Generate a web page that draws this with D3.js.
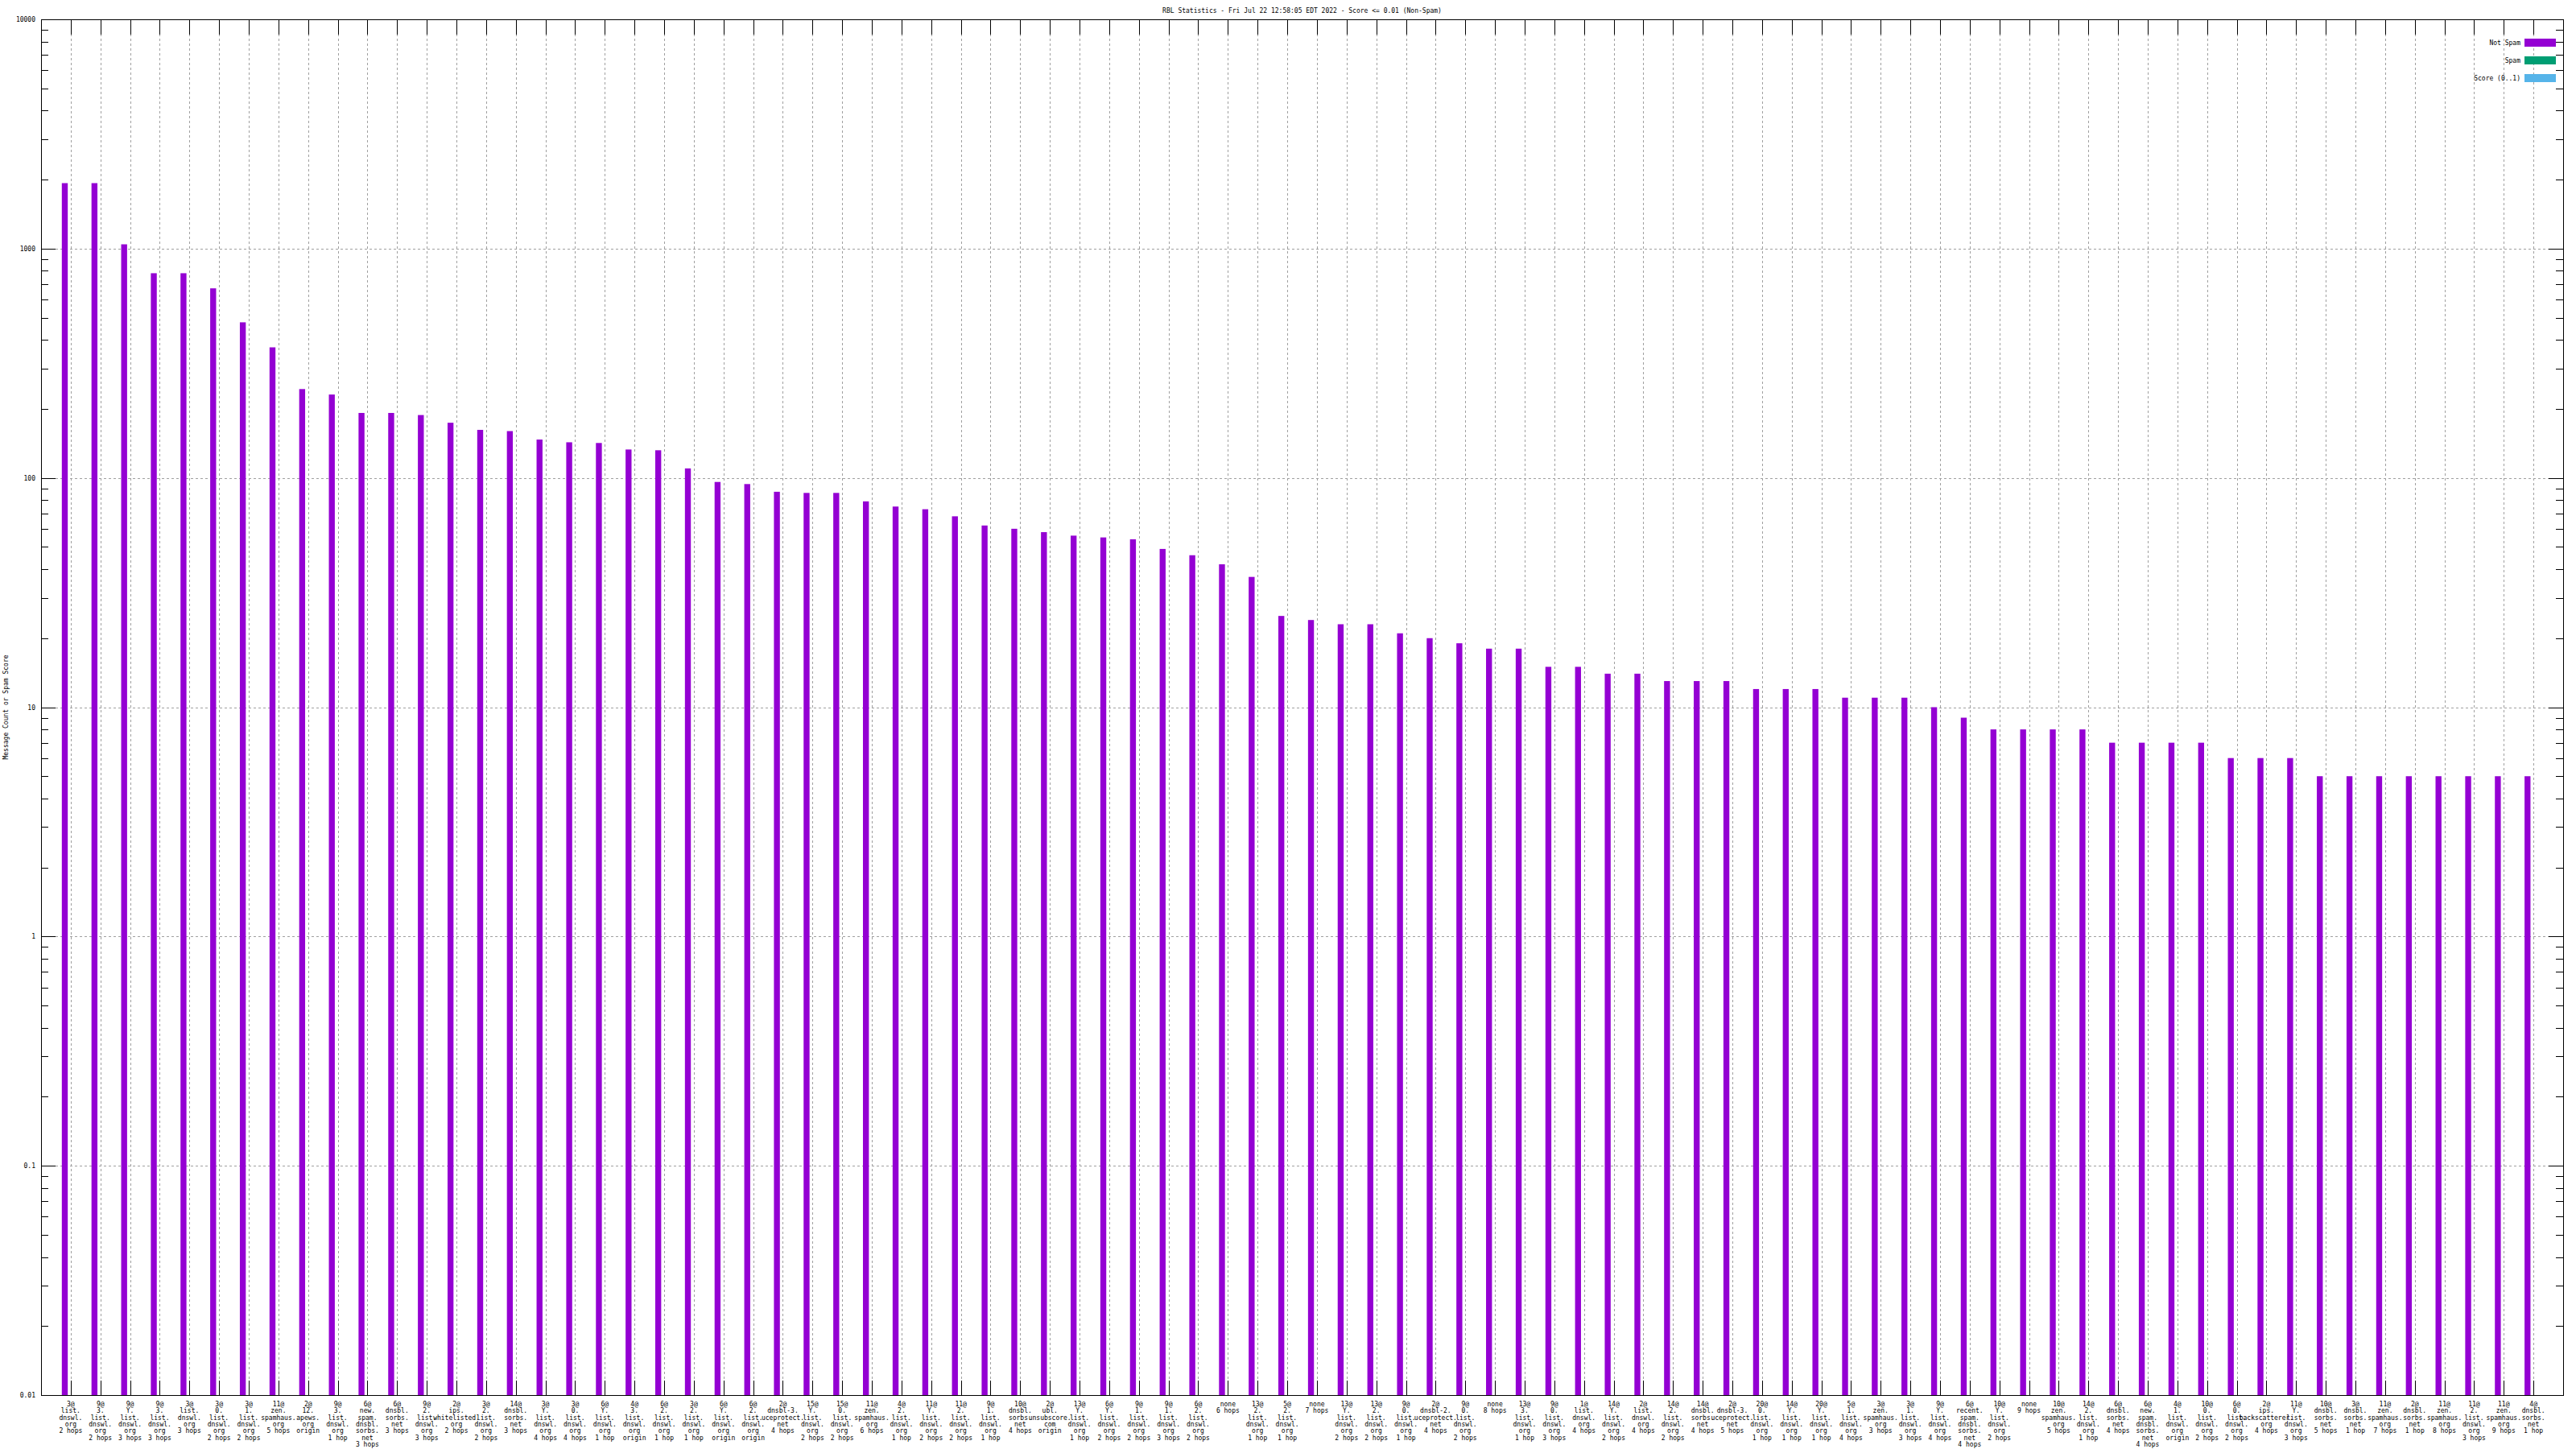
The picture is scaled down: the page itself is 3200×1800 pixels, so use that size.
<!DOCTYPE html>
<html><head><meta charset="utf-8">
<script src="https://cdn.jsdelivr.net/npm/d3@7"></script>
<style>
body{margin:0;background:#fff}
svg text{font-family:"DejaVu Sans Mono","Liberation Mono",monospace;font-size:8px;fill:#000}
</style>
</head><body>
<svg id="c" width="3200" height="1800"></svg>
<script>
const categories = [
"3@list.dnswl.org 2 hops","9@3.list.dnswl.org 2 hops","9@Y.list.dnswl.org 3 hops","9@3.list.dnswl.org 3 hops",
"3@list.dnswl.org 3 hops","3@0.list.dnswl.org 2 hops","3@1.list.dnswl.org 2 hops","11@zen.spamhaus.org 5 hops",
"2@12.apews.org origin","9@3.list.dnswl.org 1 hop","6@new.spam.dnsbl.sorbs.net 3 hops","6@dnsbl.sorbs.net 3 hops",
"9@2.list.dnswl.org 3 hops","2@ips.whitelisted.org 2 hops","3@2.list.dnswl.org 2 hops","14@dnsbl.sorbs.net 3 hops",
"3@Y.list.dnswl.org 4 hops","3@0.list.dnswl.org 4 hops","6@Y.list.dnswl.org 1 hop","4@3.list.dnswl.org origin",
"6@2.list.dnswl.org 1 hop","3@2.list.dnswl.org 1 hop","6@Y.list.dnswl.org origin","6@2.list.dnswl.org origin",
"2@dnsbl-3.uceprotect.net 4 hops","15@Y.list.dnswl.org 2 hops","15@0.list.dnswl.org 2 hops","11@zen.spamhaus.org 6 hops",
"4@2.list.dnswl.org 1 hop","11@Y.list.dnswl.org 2 hops","11@2.list.dnswl.org 2 hops","9@1.list.dnswl.org 1 hop",
"10@dnsbl.sorbs.net 4 hops","2@ubl.unsubscore.com origin","13@Y.list.dnswl.org 1 hop","6@Y.list.dnswl.org 2 hops",
"9@1.list.dnswl.org 2 hops","9@1.list.dnswl.org 3 hops","6@2.list.dnswl.org 2 hops","none 6 hops",
"13@2.list.dnswl.org 1 hop","5@2.list.dnswl.org 1 hop","none 7 hops","13@Y.list.dnswl.org 2 hops",
"13@2.list.dnswl.org 2 hops","9@0.list.dnswl.org 1 hop","2@dnsbl-2.uceprotect.net 4 hops","9@0.list.dnswl.org 2 hops",
"none 8 hops","13@3.list.dnswl.org 1 hop","9@0.list.dnswl.org 3 hops","1@list.dnswl.org 4 hops",
"14@Y.list.dnswl.org 2 hops","2@list.dnswl.org 4 hops","14@2.list.dnswl.org 2 hops","14@dnsbl.sorbs.net 4 hops",
"2@dnsbl-3.uceprotect.net 5 hops","20@0.list.dnswl.org 1 hop","14@Y.list.dnswl.org 1 hop","20@Y.list.dnswl.org 1 hop",
"5@1.list.dnswl.org 4 hops","3@zen.spamhaus.org 3 hops","3@1.list.dnswl.org 3 hops","9@Y.list.dnswl.org 4 hops",
"6@recent.spam.dnsbl.sorbs.net 4 hops","10@Y.list.dnswl.org 2 hops","none 9 hops","10@zen.spamhaus.org 5 hops",
"14@2.list.dnswl.org 1 hop","6@dnsbl.sorbs.net 4 hops","6@new.spam.dnsbl.sorbs.net 4 hops","4@1.list.dnswl.org origin",
"10@0.list.dnswl.org 2 hops","6@0.list.dnswl.org 2 hops","2@ips.backscatterer.org 4 hops","11@Y.list.dnswl.org 3 hops",
"10@dnsbl.sorbs.net 5 hops","3@dnsbl.sorbs.net 1 hop","11@zen.spamhaus.org 7 hops","2@dnsbl.sorbs.net 1 hop",
"11@zen.spamhaus.org 8 hops","11@2.list.dnswl.org 3 hops","11@zen.spamhaus.org 9 hops","4@dnsbl.sorbs.net 1 hop"
];
const notSpamCounts = [
1930,1930,1044,781,781,671,477,371,244,231,192,192,188,174,162,160,147,143,142,133,132,
110,96,94,87,86,86,79,75,73,68,62,60,58,56,55,54,49,46,42,37,25,
24,23,23,21,20,19,18,18,15,15,14,14,13,13,13,12,12,12,11,11,11,10,9,
8,8,8,8,7,7,7,7,6,6,6,5,5,5,5,5,5,5,5
];
const seriesNames = ["Not Spam","Spam","Score (0..1)"];
const yTickValues = [0.01,0.1,1,10,100,1000,10000];
const yTickLabels = ["0.01","0.1","1","10","100","1000","10000"];
const titleText = "RBL Statistics - Fri Jul 22 12:58:05 EDT 2022 - Score <= 0.01 (Non-Spam)";
const yTitleText = "Message Count or Spam Score";

const L = 51, R = 3184, T = 24, B = 1733;
const colors = ["#9400d3","#009e73","#56b4e9"];
const svg = d3.select("#c");
const x = d3.scaleLinear().domain([-1, categories.length]).range([L, R]);
const y = d3.scaleLog().domain([0.01, 10000]).range([B, T]);

const minorVals = [];
for (let e = -2; e < 4; e++) for (let k = 2; k <= 9; k++) minorVals.push(k * Math.pow(10, e));

// grid
const grid = svg.append("g").attr("stroke", "#a0a0a0").attr("stroke-width", 1)
  .attr("shape-rendering", "crispEdges").attr("stroke-dasharray", "3,3");
grid.selectAll("line.v").data(d3.range(categories.length)).join("line")
  .attr("x1", d => Math.round(x(d)) + 0.5).attr("x2", d => Math.round(x(d)) + 0.5)
  .attr("y1", T).attr("y2", B);
grid.selectAll("line.h").data(yTickValues.slice(1, -1)).join("line")
  .attr("x1", L).attr("x2", R)
  .attr("y1", d => Math.round(y(d)) + 0.5).attr("y2", d => Math.round(y(d)) + 0.5);

// bars
svg.append("g").selectAll("rect").data(notSpamCounts).join("rect")
  .attr("x", (d, i) => x(i - 0.3)).attr("width", (d, i) => x(i - 0.1) - x(i - 0.3))
  .attr("y", d => y(d)).attr("height", d => B - y(d))
  .attr("fill", colors[0]);

// axes
function styleAxis(g) {
  g.select(".domain").remove();
  g.selectAll(".tick line").attr("stroke", "#000").attr("shape-rendering", "crispEdges");
  g.selectAll("text").attr("font-family", null).attr("font-size", null);
}
svg.append("g").attr("transform", `translate(${L},0)`)
  .call(d3.axisLeft(y).tickValues(yTickValues).tickFormat((d, i) => yTickLabels[i]).tickSize(-18).tickSizeOuter(0).tickPadding(7))
  .call(styleAxis);
svg.append("g").attr("transform", `translate(${L},0)`)
  .call(d3.axisLeft(y).tickValues(minorVals).tickFormat("").tickSize(-9).tickSizeOuter(0))
  .call(styleAxis);
svg.append("g").attr("transform", `translate(${R},0)`)
  .call(d3.axisRight(y).tickValues(yTickValues).tickFormat("").tickSize(-18).tickSizeOuter(0))
  .call(styleAxis);
svg.append("g").attr("transform", `translate(${R},0)`)
  .call(d3.axisRight(y).tickValues(minorVals).tickFormat("").tickSize(-9).tickSizeOuter(0))
  .call(styleAxis);
svg.append("g").attr("transform", `translate(0,${B})`)
  .call(d3.axisBottom(x).tickValues(d3.range(categories.length)).tickFormat("").tickSize(-18).tickSizeOuter(0))
  .call(styleAxis);
svg.append("g").attr("transform", `translate(0,${T})`)
  .call(d3.axisTop(x).tickValues(d3.range(categories.length)).tickFormat("").tickSize(-19).tickSizeOuter(0))
  .call(styleAxis);

// border
svg.append("rect").attr("x", L + 0.5).attr("y", T + 0.5).attr("width", R - L).attr("height", B - T)
  .attr("fill", "none").attr("stroke", "#000").attr("stroke-width", 1).attr("shape-rendering", "crispEdges");

// x labels
function splitLabel(s) {
  const sp = s.indexOf(" ");
  const host = s.slice(0, sp), hops = s.slice(sp + 1);
  const lines = [];
  const at = host.indexOf("@");
  let rest = host;
  if (at >= 0) { lines.push(host.slice(0, at + 1)); rest = host.slice(at + 1); }
  const parts = rest.split(".");
  parts.forEach((p, i) => lines.push(i < parts.length - 1 ? p + "." : p));
  lines.push(hops);
  return lines;
}
const xl = svg.append("g").attr("text-anchor", "middle");
categories.forEach((c, i) => {
  const t = xl.append("text").attr("x", x(i)).attr("y", 1747);
  splitLabel(c).forEach((ln, j) => {
    t.append("tspan").attr("x", x(i)).attr("y", 1747 + j * 8.3).text(ln);
  });
});

// title
svg.append("text").attr("x", (L + R) / 2).attr("y", 16).attr("text-anchor", "middle").text(titleText);
svg.append("text").attr("transform", `translate(10,${(T + B) / 2}) rotate(-90)`)
  .attr("text-anchor", "middle").text(yTitleText);

// legend
const lg = svg.append("g");
seriesNames.forEach((n, i) => {
  const cy = 53 + i * 22;
  lg.append("text").attr("x", 3131).attr("y", cy + 3).attr("text-anchor", "end").text(n);
  lg.append("rect").attr("x", 3136).attr("y", cy - 5).attr("width", 39).attr("height", 10).attr("fill", colors[i]);
});
</script>
</body></html>
